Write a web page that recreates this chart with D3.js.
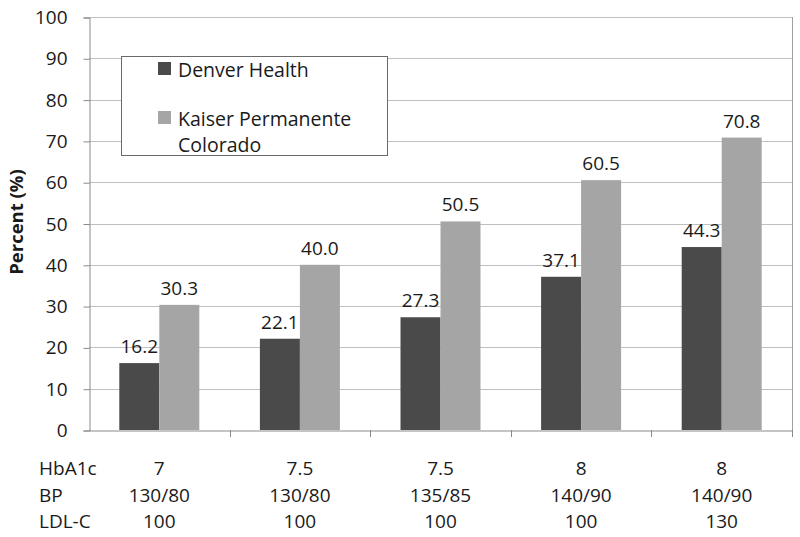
<!DOCTYPE html>
<html>
<head>
<meta charset="utf-8">
<script src="https://cdn.jsdelivr.net/npm/d3@7"></script>
<style>
  html, body { margin: 0; padding: 0; background: #fff; }
  svg { display: block; font-family: "Open Sans", sans-serif; }
</style>
</head>
<body>
<svg id="chart" width="800" height="537"></svg>
<script>
const categories = ["c1", "c2", "c3", "c4", "c5"];
const hba1c = ["7", "7.5", "7.5", "8", "8"];
const bp = ["130/80", "130/80", "135/85", "140/90", "140/90"];
const ldl = ["100", "100", "100", "100", "130"];
const rowLabels = ["HbA1c", "BP", "LDL-C"];
const seriesNames = ["Denver Health", "Kaiser Permanente Colorado"];
const denverHealth = [16.2, 22.1, 27.3, 37.1, 44.3];
const kaiser = [30.3, 40.0, 50.5, 60.5, 70.8];
const yTicks = [0, 10, 20, 30, 40, 50, 60, 70, 80, 90, 100];
const colors = ["#4a4a4a", "#a5a5a5"];

(function () {
const svg = d3.select("#chart");
const pLeft = 89, pRight = 792, pTop = 17, pBottom = 430;
const fs = 19, txt = "#1a1a1a";

const y = d3.scaleLinear().domain([0, 100]).range([pBottom, pTop]);
const x = d3.scaleBand().domain(categories).range([pLeft, pRight]).padding(0);
const xSub = d3.scaleBand().domain(seriesNames).range([0, 80]).padding(0);
const groupOffset = (x.bandwidth() - 80) / 2;

// gridlines
svg.append("g").selectAll("line").data(yTicks.filter(d => d > 0)).join("line")
  .attr("x1", pLeft).attr("x2", pRight)
  .attr("y1", d => Math.round(y(d)) + 0.5).attr("y2", d => Math.round(y(d)) + 0.5)
  .attr("stroke", "#c0c0c0").attr("stroke-width", 1);

// right border
svg.append("line").attr("x1", pRight + 0.5).attr("x2", pRight + 0.5)
  .attr("y1", pTop).attr("y2", pBottom + 7).attr("stroke", "#a0a0a0");

// y axis
const yAxis = svg.append("g").attr("transform", `translate(${pLeft + 0.5},0.5)`)
  .call(d3.axisLeft(y).tickValues(yTicks).tickSize(6).tickPadding(16).tickFormat(d3.format("d")));
yAxis.select(".domain").attr("stroke", "#8a8a8a");
yAxis.selectAll(".tick line").attr("stroke", "#8a8a8a");
yAxis.selectAll(".tick text").attr("font-size", fs).attr("fill", txt)
  .attr("font-family", "Open Sans, sans-serif");

// x axis
const xAxis = svg.append("g").attr("transform", `translate(0,${pBottom + 0.5})`)
  .call(d3.axisBottom(x).tickValues([]).tickSizeOuter(0));
xAxis.select(".domain").attr("stroke", "#8a8a8a");
const bounds = categories.map(c => x(c)).concat([x(categories[4]) + x.bandwidth()]);
svg.append("g").selectAll("line").data(bounds.slice(1)).join("line")
  .attr("x1", d => Math.round(d) + 0.5).attr("x2", d => Math.round(d) + 0.5)
  .attr("y1", pBottom).attr("y2", pBottom + 7).attr("stroke", "#8a8a8a");

// bars
const data = categories.map((c, i) => ({ c, vals: [denverHealth[i], kaiser[i]] }));
const groups = svg.append("g").selectAll("g").data(data).join("g")
  .attr("transform", d => `translate(${x(d.c) + groupOffset},0)`);
groups.selectAll("rect").data(d => d.vals.map((v, j) => ({ v, s: seriesNames[j], j }))).join("rect")
  .attr("x", d => xSub(d.s)).attr("width", xSub.bandwidth())
  .attr("y", d => y(d.v)).attr("height", d => pBottom - y(d.v))
  .attr("fill", d => colors[d.j]);
groups.selectAll("text").data(d => d.vals.map((v, j) => ({ v, s: seriesNames[j], j }))).join("text")
  .attr("x", d => xSub(d.s) + xSub.bandwidth() / 2)
  .attr("y", d => y(d.v) - 10)
  .attr("text-anchor", "middle").attr("font-size", fs).attr("fill", txt)
  .text(d => d.v.toFixed(1));

// bottom rows
const rows = [hba1c, bp, ldl];
const rowY = [475, 502, 528];
rows.forEach((r, k) => {
  svg.append("text").attr("x", 39).attr("y", rowY[k]).attr("font-size", fs).attr("fill", txt)
    .text(rowLabels[k]);
  svg.append("g").selectAll("text").data(r).join("text")
    .attr("x", (d, i) => x(categories[i]) + x.bandwidth() / 2)
    .attr("y", rowY[k]).attr("text-anchor", "middle").attr("font-size", fs).attr("fill", txt)
    .text(d => d);
});

// y title
svg.append("text").attr("transform", "translate(23,222) rotate(-90)")
  .attr("text-anchor", "middle").attr("font-size", 18.5).attr("font-weight", "bold").attr("fill", txt)
  .text("Percent (%)");

// legend
const lg = svg.append("g");
lg.append("rect").attr("x", 121.5).attr("y", 56.5).attr("width", 266).attr("height", 99)
  .attr("fill", "#fff").attr("stroke", "#6a6a6a");
lg.append("rect").attr("x", 158).attr("y", 62).attr("width", 13).attr("height", 13).attr("fill", colors[0]);
lg.append("rect").attr("x", 158).attr("y", 111).attr("width", 13).attr("height", 13).attr("fill", colors[1]);
lg.append("text").attr("x", 178).attr("y", 77).attr("font-size", 19.5).attr("fill", txt).text(seriesNames[0]);
lg.append("text").attr("x", 178).attr("y", 126).attr("font-size", 19.5).attr("fill", txt).text("Kaiser Permanente");
lg.append("text").attr("x", 178).attr("y", 152).attr("font-size", 19.5).attr("fill", txt).text("Colorado");
})();
</script>
</body>
</html>
